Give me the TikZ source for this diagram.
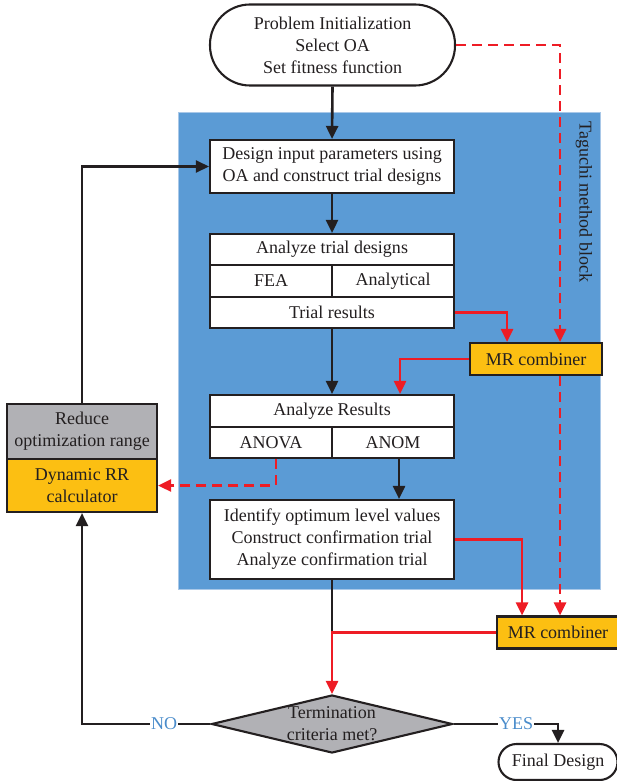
\documentclass[tikz,border=0pt]{standalone}
\usepackage{fontspec}
\setmainfont{Liberation Serif}
\usetikzlibrary{arrows.meta,shapes.geometric,calc}
\definecolor{tblue}{HTML}{5B9BD5}
\definecolor{tblueedge}{HTML}{A9C8E8}
\definecolor{tyellow}{HTML}{FCBF12}
\definecolor{tgray}{HTML}{B1B1B5}
\definecolor{tred}{HTML}{EE1C25}
\definecolor{tlbl}{HTML}{4A8CCB}
\definecolor{tblack}{HTML}{231F20}
\begin{document}
\begin{tikzpicture}[x=1pt,y=-1pt,
  font=\fontsize{18}{22}\selectfont,
  box/.style={draw=tblack,line width=2.1pt,fill=white,rectangle,inner sep=0pt,align=center,text=tblack},
  blk/.style={draw=tblack,line width=2.6pt,-{Triangle[length=13pt,width=12pt]}},
  blkline/.style={draw=tblack,line width=2.6pt},
  redarr/.style={draw=tred,line width=2.6pt,-{Triangle[length=13pt,width=12pt]}},
  reddash/.style={draw=tred,line width=2.6pt,dash pattern=on 10pt off 6pt,-{Triangle[length=13pt,width=12pt]}},
  lbl/.style={fill=white,text=tlbl,inner sep=1pt}
]
\useasboundingbox (0,0) rectangle (617,781);
% Taguchi block background
\node[draw=tblueedge,line width=1pt,fill=tblue,minimum width=422pt,minimum height=476pt,inner sep=0pt] (blue) at (389,351) {};
\node[rotate=-90,text=tblack] (tag) at (584,202) {Taguchi method block};

% nodes
\node[box,rounded corners=40pt,minimum width=245pt,minimum height=81pt] (start) at (332.5,45) {Problem Initialization\\Select OA\\Set fitness function};
\node[box,minimum width=244pt,minimum height=53pt] (design) at (332,166.5) {Design input parameters using\\OA and construct trial designs};
\node[box,minimum width=244pt,minimum height=31pt] (atd) at (332,249.5) {Analyze trial designs};
\node[box,minimum width=122pt,minimum height=32pt] (fea) at (271,281) {FEA};
\node[box,minimum width=122pt,minimum height=32pt] (ana) at (393,281) {Analytical};
\node[box,minimum width=244pt,minimum height=31pt] (trial) at (332,312.5) {Trial results};
\node[box,fill=tyellow,minimum width=132pt,minimum height=32pt] (mr1) at (536,359) {MR combiner};
\node[box,minimum width=244pt,minimum height=32pt] (ares) at (332,411) {Analyze Results};
\node[box,minimum width=122pt,minimum height=31pt] (anova) at (271,442.5) {ANOVA};
\node[box,minimum width=122pt,minimum height=31pt] (anom) at (393,442.5) {ANOM};
\node[box,minimum width=244pt,minimum height=79pt] (ident) at (332,539.5) {Identify optimum level values\\Construct confirmation trial\\Analyze confirmation trial};
\node[box,fill=tyellow,minimum width=130pt,minimum height=32pt] (mr2) at (562,632.5) {\hspace*{-8pt}MR combiner};
\node[box,fill=tgray,minimum width=150pt,minimum height=55pt] (reduce) at (82,431.5) {Reduce\\optimization range};
\node[box,fill=tyellow,minimum width=150pt,minimum height=53pt] (dyn) at (82,485.5) {Dynamic RR\\calculator};
\node[draw=tblack,line width=2.1pt,fill=tgray,diamond,aspect=4.155,inner sep=0pt,minimum width=241pt,minimum height=58pt,
  label={[align=center,text=tblack]center:Termination\\criteria met?}] (term) at (332,724) {};
\node[box,rounded corners=18pt,minimum width=119pt,minimum height=36pt] (final) at (558,762) {Final Design};

% black flow
\draw[blk] (start.south) -- (design.north);
\draw[blk] (design.south) -- (atd.north);
\draw[blk] (trial.south) -- (ares.north);
\draw[blk] ([xshift=6pt]anom.south) -- ([xshift=6pt]anom.south |- ident.north);
\draw[blkline] (ident.south) -- (ident.south |- mr2.west);
\draw[blk] (reduce.north) |- (design.west);
\draw[blk] (term.west) -| node[lbl,pos=0.18]{NO} (dyn.south);
\draw[blk] (term.east) -| node[lbl,pos=0.3]{YES} (final.north);

% red flow
\draw[redarr] (trial.east) -| ([xshift=-29pt]mr1.north);
\draw[redarr] (mr1.west) -| ([xshift=68pt]ares.north);
\draw[redarr] (ident.east) -| ([xshift=-40pt]mr2.north);
\draw[redarr] (mr2.west) -| (term.north);
\draw[reddash] (start.east) -| ([xshift=24pt]mr1.north);
\draw[reddash] ([xshift=24pt]mr1.south) -- ([xshift=24pt]mr1.south |- mr2.north);
\draw[reddash] ([xshift=5pt]anova.south) |- (dyn.east);
\end{tikzpicture}
\end{document}
